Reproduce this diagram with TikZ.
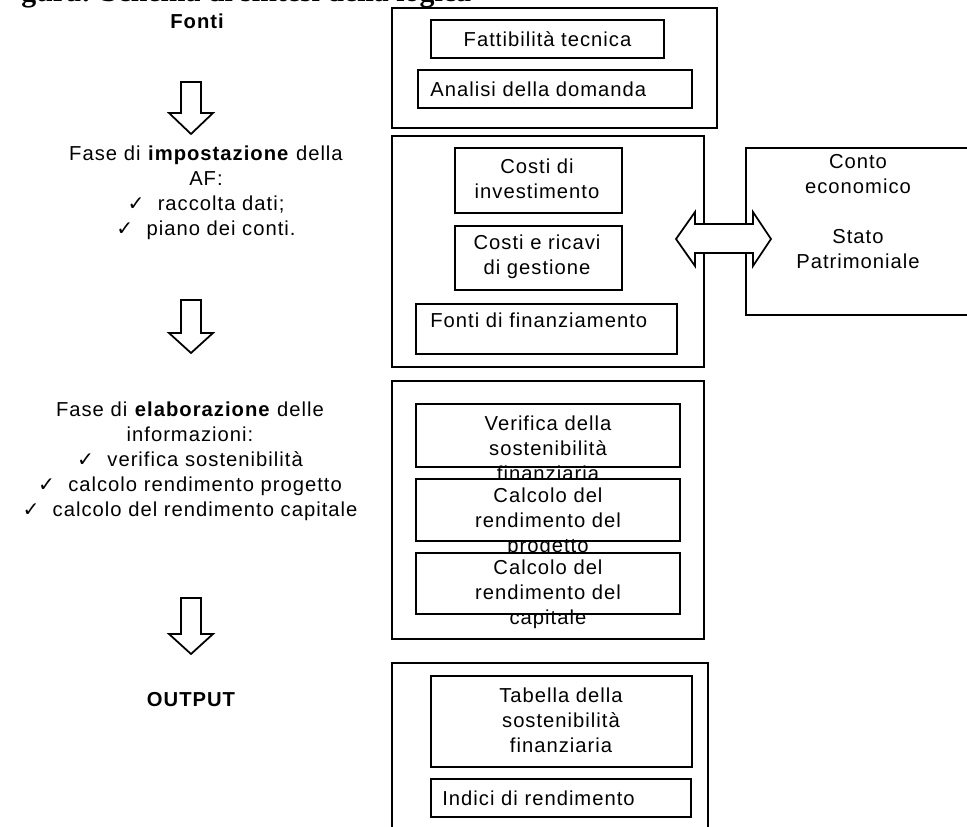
\documentclass[tikz,border=0pt]{standalone}
\usepackage{fontspec}
\setmainfont{Liberation Sans}[LetterSpace=5]
\newfontfamily\checkfont{DejaVu Sans}
\newfontfamily\titlefont{Liberation Serif}
\usetikzlibrary{fit}
\newcommand{\ck}{{\checkfont\fontsize{11.5}{12}\selectfont ✓}}

\begin{document}
\begin{tikzpicture}[x=0.02cm, y=-0.02cm,
  box/.style={draw, line width=1pt, inner sep=0pt},
  inbox/.style={draw, line width=1pt, inner sep=0pt, fill=white},
  txt/.style={align=center, inner sep=0pt, font=\fontsize{11.5}{14.2}\selectfont},
  blockarrow/.style={draw, line width=1pt, fill=white, line join=miter}]
\useasboundingbox (0,0) rectangle (967,827);

% titolo tagliato in alto
\node[anchor=base west, inner sep=0pt, font=\titlefont\bfseries\fontsize{17}{20}\selectfont] (title) at (21,2) {gura: Schema di sintesi della logica};

% colonna di sinistra
\node[txt, font=\bfseries\fontsize{11.5}{14.2}\selectfont] (fonti) at (197,21) {Fonti};
\draw[blockarrow] (181,82) -- (201,82) -- (201,113) -- (213,113) -- (191,134) -- (169,113) -- (181,113) -- cycle;
\node[txt] (impost) at (206,193) {Fase di \textbf{impostazione} della\\AF:\\\ck\ \ raccolta dati;\\\ck\ \ piano dei conti.};
\draw[blockarrow] (181,300) -- (201,300) -- (201,333) -- (213,333) -- (191,353) -- (169,333) -- (181,333) -- cycle;
\node[txt] (elab) at (190,461) {Fase di \textbf{elaborazione} delle\\informazioni:\\\ck\ \ verifica sostenibilità\\\ck\ \ calcolo rendimento progetto\\\ck\ \ calcolo del rendimento capitale};
\draw[blockarrow] (181,598) -- (201,598) -- (201,634) -- (213,634) -- (191,654) -- (169,634) -- (181,634) -- cycle;
\node[txt, font=\bfseries\fontsize{11.5}{14.2}\selectfont] (output) at (191,700) {OUTPUT};

% blocco 1
\node[box, fit={(392,8)(717,128)}] (blk1) {};
\node[inbox, fit={(431,20)(664,58)}] (fattib) {};
\node[txt] (fattibtxt) at (fattib.center) {Fattibilità tecnica};
\node[inbox, fit={(418,70)(692,108)}] (domanda) {};
\node[txt, anchor=west] (domandatxt) at (430,89) {Analisi della domanda};

% blocco 2
\node[box, fit={(392,136)(704,367)}] (blk2) {};
\node[inbox, fit={(455,148)(622,213)}] (invest) {};
\node[txt] (investtxt) at (537,179) {Costi di\\investimento};
\node[inbox, fit={(455,226)(622,290)}] (gestione) {};
\node[txt] (gestionetxt) at (537,257) {Costi e ricavi\\di gestione};
\node[inbox, fit={(416,304)(677,354)}] (finanz) {};
\node[txt, anchor=west] (finanztxt) at (430,320) {Fonti di finanziamento};

% conto economico / stato patrimoniale
\node[box, fit={(746,148)(990,315)}] (conti) {};
\node[txt] (contotxt) at (858,174) {Conto\\economico};
\node[txt] (statotxt) at (858,249) {Stato\\Patrimoniale};
\draw[blockarrow] (676,239) -- (695,212) -- (695,224) -- (753,224) -- (753,212) -- (771,239) -- (753,266) -- (753,253) -- (695,253) -- (695,266) -- cycle;

% blocco 3
\node[box, fit={(392,381)(704,639)}] (blk3) {};
\node[inbox, fit={(416,404)(680,467)}] (verif) {};
\node[txt] (veriftxt) at (548,448) {Verifica della\\sostenibilità\\finanziaria};
\node[inbox, fit={(416,479)(680,541)}] (rendprog) {};
\node[txt] (rendprogtxt) at (548,522) {Calcolo del\\rendimento del\\progetto};
\node[inbox, fit={(416,553)(680,614)}] (rendcap) {};
\node[txt] (rendcaptxt) at (548,594) {Calcolo del\\rendimento del\\capitale};

% blocco 4
\node[box, fit={(392,663)(708,840)}] (blk4) {};
\node[inbox, fit={(431,676)(692,767)}] (tabella) {};
\node[txt] (tabellatxt) at (561,720) {Tabella della\\sostenibilità\\finanziaria};
\node[inbox, fit={(431,779)(691,817)}] (indici) {};
\node[txt, anchor=west] (indicitxt) at (442,798) {Indici di rendimento};

\end{tikzpicture}
\end{document}
